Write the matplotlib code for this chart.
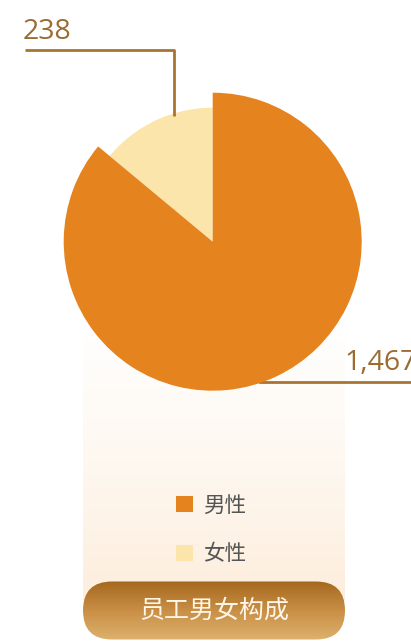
import numpy as np
import matplotlib
matplotlib.use("Agg")
import matplotlib.pyplot as plt
from matplotlib.patches import FancyBboxPatch

plt.rcParams['font.family'] = ['Noto Sans CJK SC', 'DejaVu Sans']

# ========== données ==========
categories = ["女性", "男性"]
values = [238, 1467]
colors = ["#FCE5AA", "#E5831F"]
radii = [134, 149]          # rayon de chaque secteur (px)
title = "员工男女构成"

W, H = 411, 641
cx, cy = 212.7, 641 - 241.7   # centre du camembert (repère bas-gauche)

fig = plt.figure(figsize=(W / 100, H / 100), dpi=100)
ax = fig.add_axes([0, 0, 1, 1])

# panneau en dégradé derrière la légende
grad = np.linspace(0, 1, 256).reshape(-1, 1)
panel_cmap = matplotlib.colors.LinearSegmentedColormap.from_list(
    "panel", ["#FFFFFF", "#FEF8F1", "#FDEEDD"])
ax.imshow(grad, cmap=panel_cmap, aspect='auto',
          extent=[83, 344, H - 600, H - 320], zorder=0)

# camembert
wedges, _ = ax.pie(values, colors=colors, startangle=90, counterclock=True,
                   center=(cx, cy), radius=max(radii),
                   wedgeprops=dict(linewidth=0))
for w, r in zip(wedges, radii):
    w.set_radius(r)
    w.set_zorder(2)

# étiquettes avec lignes de rappel
line_c = "#A9742F"
txt_c = "#9B6B32"
# 女性 : coude vers le haut puis à gauche
w = wedges[0]
th = np.deg2rad(107)
x0, y0 = cx + w.r * np.cos(th), cy + w.r * np.sin(th)
ax.plot([x0, x0, 25], [y0 - 2, H - 50, H - 50], color=line_c, lw=2, zorder=3,
        solid_capstyle='butt')
ax.text(23, H - 46, f"{values[0]:,}", fontsize=20.5, color=txt_c,
        ha='left', va='bottom', family=['Open Sans', 'DejaVu Sans'])
# 男性 : ligne horizontale vers la droite
w = wedges[1]
y1 = H - 381.5
x1 = cx + np.sqrt(w.r ** 2 - (y1 - cy) ** 2)
ax.plot([x1 - 4, W + 5], [y1, y1], color=line_c, lw=2, zorder=1)
ax.text(344, y1 + 5, f"{values[1]:,}", fontsize=20.5, color=txt_c,
        ha='left', va='bottom', family=['Open Sans', 'DejaVu Sans'])

# légende (ordre 男性, 女性)
leg = fig.legend([wedges[1], wedges[0]], [categories[1], categories[0]],
                 loc='center', bbox_to_anchor=(211 / W, 1 - 530 / H),
                 frameon=False, fontsize=15.5, handlelength=0.8, handleheight=0.8,
                 handletextpad=0.5, labelspacing=1.25, borderaxespad=0)
for t in leg.get_texts():
    t.set_color("#555555")

# bouton en bas
btn = FancyBboxPatch((83 + 29, 30.5), 262 - 58, 0,
                     boxstyle="round,pad=29", linewidth=0, facecolor='none',
                     zorder=4)
ax.add_patch(btn)
btn_cmap = matplotlib.colors.LinearSegmentedColormap.from_list(
    "btn", ["#DDB16D", "#C98F45", "#A4671E"])
im = ax.imshow(grad, cmap=btn_cmap, aspect='auto', origin='lower',
               extent=[83, 345, 1, 60], zorder=4)
im.set_clip_path(btn)
ax.text(214, H - 611, title, fontsize=18, color="#FFF6EA",
        ha='center', va='center', zorder=5)

ax.set_xlim(0, W)
ax.set_ylim(0, H)
ax.set_aspect('auto')
ax.axis('off')

fig.savefig("out.png", dpi=100)
